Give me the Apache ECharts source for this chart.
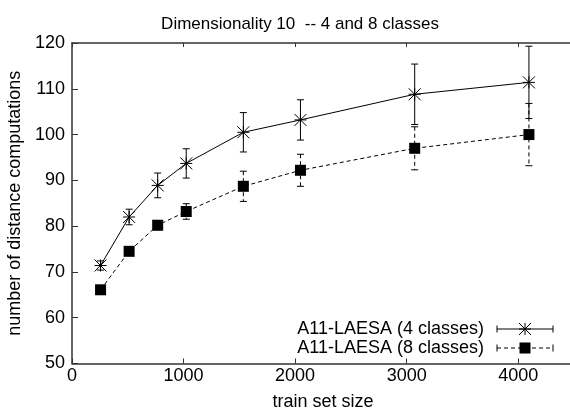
<!DOCTYPE html>
<html>
<head>
<meta charset="utf-8">
<script src="https://cdn.jsdelivr.net/npm/echarts@6/dist/echarts.min.js"></script>
<style>
  html, body { margin: 0; padding: 0; background: #fff; }
  #chart { width: 570px; height: 412px; }
</style>
</head>
<body>
<div id="chart"></div>
<script>
// Training set sizes (x) and mean number of distance computations (y) with error half-widths
const trainSizes = [256, 512, 768, 1024, 1536, 2048, 3072, 4096];
const comp4 = [71.4, 82.0, 88.9, 93.7, 100.5, 103.2, 108.8, 111.4];
const err4  = [1.0, 1.7, 2.7, 3.2, 4.3, 4.4, 6.6, 7.9];
const comp8 = [66.1, 74.5, 80.2, 83.2, 88.7, 92.2, 97.0, 100.0];
const err8  = [0.3, 0.8, 1.0, 1.7, 3.3, 3.5, 4.7, 6.8];

const seriesNames = ['A11-LAESA (4 classes)', 'A11-LAESA (8 classes)'];
const titleText = 'Dimensionality 10  -- 4 and 8 classes';
const xTicks = [0, 1000, 2000, 3000, 4000];
const yTicks = [50, 60, 70, 80, 90, 100, 110, 120];

const FONT = '"Liberation Sans", Arial, Helvetica, sans-serif';
const FS = 18;
const INK = '#000';
const AXIS = '#333';
const DASH = [4, 3];

const rows4 = trainSizes.map((x, i) => [x, comp4[i], err4[i]]);
const rows8 = trainSizes.map((x, i) => [x, comp8[i], err8[i]]);

// draws one error bar with caps plus the point marker
function errorBarRenderer(dashed, marker) {
  return function (params, api) {
    const x = api.value(0), y = api.value(1), e = api.value(2);
    const c = api.coord([x, y]);
    const hi = api.coord([x, y + e]);
    const lo = api.coord([x, y - e]);
    const cap = 3.5;
    const st = { stroke: INK, lineWidth: 1, lineDash: dashed ? DASH : null };
    const kids = [
      { type: 'line', shape: { x1: c[0], y1: hi[1], x2: c[0], y2: lo[1] }, style: st },
      { type: 'line', shape: { x1: c[0] - cap, y1: hi[1], x2: c[0] + cap, y2: hi[1] }, style: { stroke: INK, lineWidth: 1 } },
      { type: 'line', shape: { x1: c[0] - cap, y1: lo[1], x2: c[0] + cap, y2: lo[1] }, style: { stroke: INK, lineWidth: 1 } }
    ];
    kids.push.apply(kids, markerShapes(marker, c[0], c[1]));
    return { type: 'group', children: kids };
  };
}

function markerShapes(marker, cx, cy) {
  if (marker === 'star') {
    const r = 6;
    const s = { stroke: INK, lineWidth: 1 };
    return [
      { type: 'line', shape: { x1: cx - r, y1: cy, x2: cx + r, y2: cy }, style: s },
      { type: 'line', shape: { x1: cx, y1: cy - r, x2: cx, y2: cy + r }, style: s },
      { type: 'line', shape: { x1: cx - r, y1: cy - r, x2: cx + r, y2: cy + r }, style: s },
      { type: 'line', shape: { x1: cx - r, y1: cy + r, x2: cx + r, y2: cy - r }, style: s }
    ];
  }
  const h = 5.5;
  return [{ type: 'rect', shape: { x: cx - h, y: cy - h, width: 2 * h, height: 2 * h }, style: { fill: INK } }];
}

// key entries: label right-aligned, then a sample line with end caps and the marker
function keyEntry(label, y, dashed, marker) {
  const x1 = 497, x2 = 553, xm = 525;
  const kids = [
    { type: 'text', x: 484, y: y, style: { text: label, font: FS + 'px ' + FONT, fill: INK, align: 'right', verticalAlign: 'middle' } },
    { type: 'line', shape: { x1: x1, y1: y, x2: x2, y2: y }, style: { stroke: INK, lineWidth: 1, lineDash: dashed ? DASH : null } },
    { type: 'line', shape: { x1: x1, y1: y - 3.5, x2: x1, y2: y + 3.5 }, style: { stroke: INK, lineWidth: 1 } },
    { type: 'line', shape: { x1: x2, y1: y - 3.5, x2: x2, y2: y + 3.5 }, style: { stroke: INK, lineWidth: 1 } }
  ];
  kids.push.apply(kids, markerShapes(marker, xm, y));
  return { type: 'group', children: kids };
}

const chart = echarts.init(document.getElementById('chart'), null, { renderer: 'canvas' });

const axisLine = { show: true, lineStyle: { color: AXIS, width: 1.5 } };
const labelStyle = { color: INK, fontFamily: FONT, fontSize: FS };

chart.setOption({
  animation: false,
  backgroundColor: '#fff',
  textStyle: { fontFamily: FONT },
  title: {
    text: titleText,
    left: 295, top: 11, textAlign: 'center',
    textStyle: { fontFamily: FONT, fontSize: 17, fontWeight: 'normal', color: INK }
  },
  grid: { left: 72, right: -4, top: 43, bottom: 48.5, containLabel: false, outerBoundsMode: 'none' },
  xAxis: [{
    type: 'value', min: 0, max: 4500, interval: 1000,
    name: 'train set size', nameLocation: 'middle', nameGap: 30,
    nameTextStyle: labelStyle,
    axisLine: axisLine,
    axisTick: { show: true, inside: true, length: 5, lineStyle: { color: AXIS, width: 1 } },
    axisLabel: Object.assign({ margin: 4, showMaxLabel: false,
      formatter: v => (xTicks.indexOf(v) >= 0 ? String(v) : '') }, labelStyle),
    splitLine: { show: false }
  }, {
    type: 'value', position: 'top', min: 0, max: 4500, interval: 1000,
    axisLine: axisLine,
    axisTick: { show: true, inside: true, length: 4, lineStyle: { color: AXIS, width: 1 } },
    axisLabel: { show: false },
    splitLine: { show: false }
  }],
  yAxis: [{
    type: 'value', min: 50, max: 120, interval: 10,
    name: 'number of distance computations', nameLocation: 'middle', nameGap: 45,
    nameRotate: 90,
    nameTextStyle: labelStyle,
    axisLine: axisLine,
    axisTick: { show: true, inside: true, length: 6, lineStyle: { color: AXIS, width: 1 } },
    axisLabel: Object.assign({ margin: 7,
      formatter: v => (yTicks.indexOf(v) >= 0 ? String(v) : '') }, labelStyle),
    splitLine: { show: false }
  }],
  series: [
    {
      name: seriesNames[0], type: 'line', data: rows4.map(r => [r[0], r[1]]),
      showSymbol: false, symbol: 'none', silent: true,
      lineStyle: { color: INK, width: 1 }, z: 2
    },
    {
      name: seriesNames[1], type: 'line', data: rows8.map(r => [r[0], r[1]]),
      showSymbol: false, symbol: 'none', silent: true,
      lineStyle: { color: INK, width: 1, type: DASH }, z: 2
    },
    {
      name: seriesNames[0] + ' errors', type: 'custom', data: rows4,
      encode: { x: 0, y: 1 }, renderItem: errorBarRenderer(false, 'star'), z: 3, clip: false
    },
    {
      name: seriesNames[1] + ' errors', type: 'custom', data: rows8,
      encode: { x: 0, y: 1 }, renderItem: errorBarRenderer(true, 'square'), z: 3, clip: false
    }
  ],
  graphic: [
    keyEntry(seriesNames[0], 329, false, 'star'),
    keyEntry(seriesNames[1], 348, true, 'square')
  ]
});
</script>
</body>
</html>
